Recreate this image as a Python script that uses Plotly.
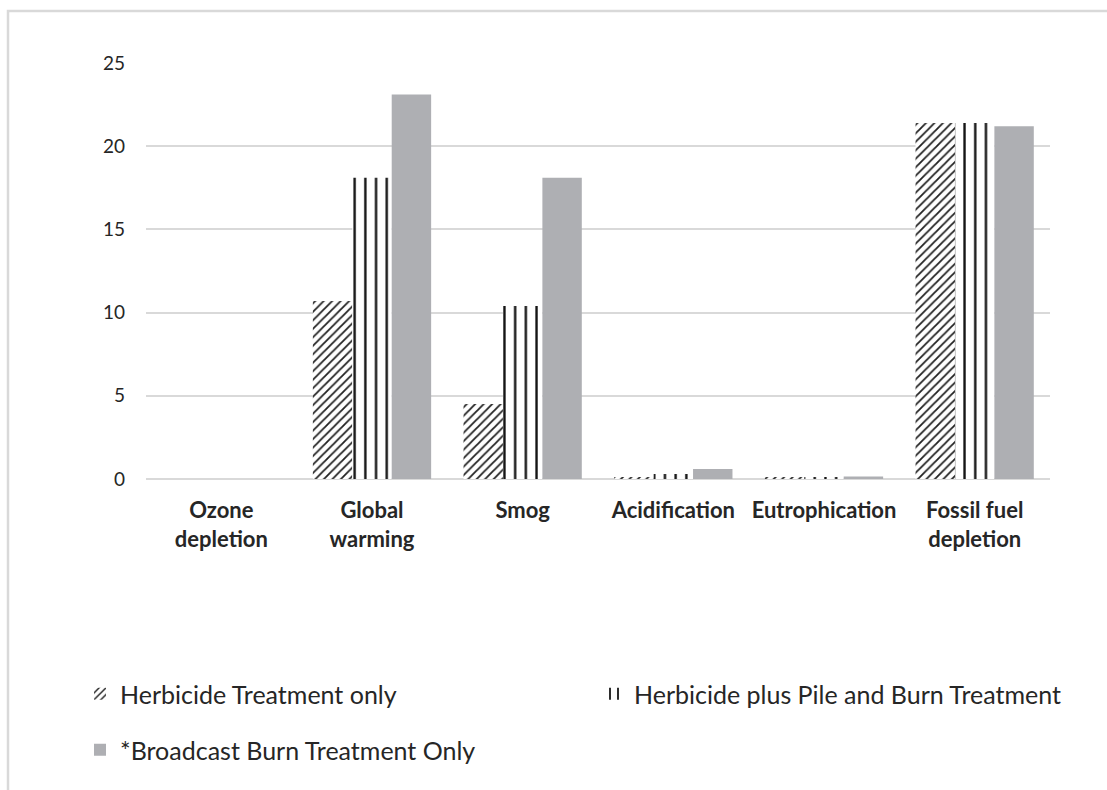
import plotly.graph_objects as go

categories = ["Ozone<br>depletion", "Global<br>warming", "Smog", "Acidification",
              "Eutrophication", "Fossil fuel<br>depletion"]
herbicide_only = [0.0, 10.7, 4.5, 0.1, 0.1, 21.4]
herbicide_pile_burn = [0.0, 18.1, 10.4, 0.3, 0.1, 21.4]
broadcast_burn = [0.0, 23.1, 18.1, 0.6, 0.15, 21.2]
y_ticks = [0, 5, 10, 15, 20, 25]

W, H = 1107, 790
ML, MR, MT, MB = 146, 57, 63, 311
PW, PH = W - ML - MR, H - MT - MB

def px_x(p):
    return (p - ML) / PW

def px_y(p):
    return 1 - (p - MT) / PH

FONT = "Lato"
TXT = "#262626"

fig = go.Figure()
fig.add_trace(go.Bar(
    x=categories, y=herbicide_only, name="Herbicide Treatment only",
    marker=dict(color="white", line=dict(width=0),
                pattern=dict(shape="/", fgcolor="#222222", bgcolor="white",
                             fgopacity=1, size=6, solidity=0.3)),
    legend="legend",
))
fig.add_trace(go.Bar(
    x=categories, y=herbicide_pile_burn, name="Herbicide plus Pile and Burn Treatment",
    marker=dict(color="white", line=dict(width=0),
                pattern=dict(shape="|", fgcolor="#111111", bgcolor="white",
                             fgopacity=1, size=10.7, solidity=0.22)),
    legend="legend3",
))
fig.add_trace(go.Bar(
    x=categories, y=broadcast_burn, name="*Broadcast Burn Treatment Only",
    marker=dict(color="#aeafb3", line=dict(width=0)),
    legend="legend2",
))

# chart frame (top and left edges visible)
fig.add_shape(type="rect", xref="paper", yref="paper",
              x0=px_x(8), x1=px_x(1120), y0=px_y(11), y1=px_y(800),
              line=dict(color="#d9d9d9", width=2.5), fillcolor="rgba(0,0,0,0)",
              layer="below")

legend_common = dict(orientation="h", xanchor="left", yanchor="middle",
                     font=dict(family=FONT, size=25, color=TXT),
                     bgcolor="rgba(0,0,0,0)", itemwidth=30)

fig.update_layout(
    width=W, height=H,
    margin=dict(l=ML, r=MR, t=MT, b=MB),
    paper_bgcolor="white", plot_bgcolor="white",
    barmode="group", bargap=0.215, bargroupgap=0,
    font=dict(family=FONT, size=18, color=TXT),
    showlegend=True,
    legend=dict(x=px_x(80), y=px_y(694), **legend_common),
    legend3=dict(x=px_x(594), y=px_y(694), **legend_common),
    legend2=dict(x=px_x(80), y=px_y(750), **legend_common),
    xaxis=dict(showgrid=False, showline=False, ticks="",
               tickfont=dict(family=FONT, size=22, color=TXT, weight="bold"),
               ticklabelstandoff=16),
    yaxis=dict(range=[0, 25], tickvals=y_ticks, showgrid=True,
               gridcolor="#d9d9d9", gridwidth=2, zeroline=True,
               zerolinecolor="#d9d9d9", zerolinewidth=2, showline=False,
               tickfont=dict(family=FONT, size=19, color=TXT),
               ticklabelstandoff=20),
)

fig.write_html("out.html")
